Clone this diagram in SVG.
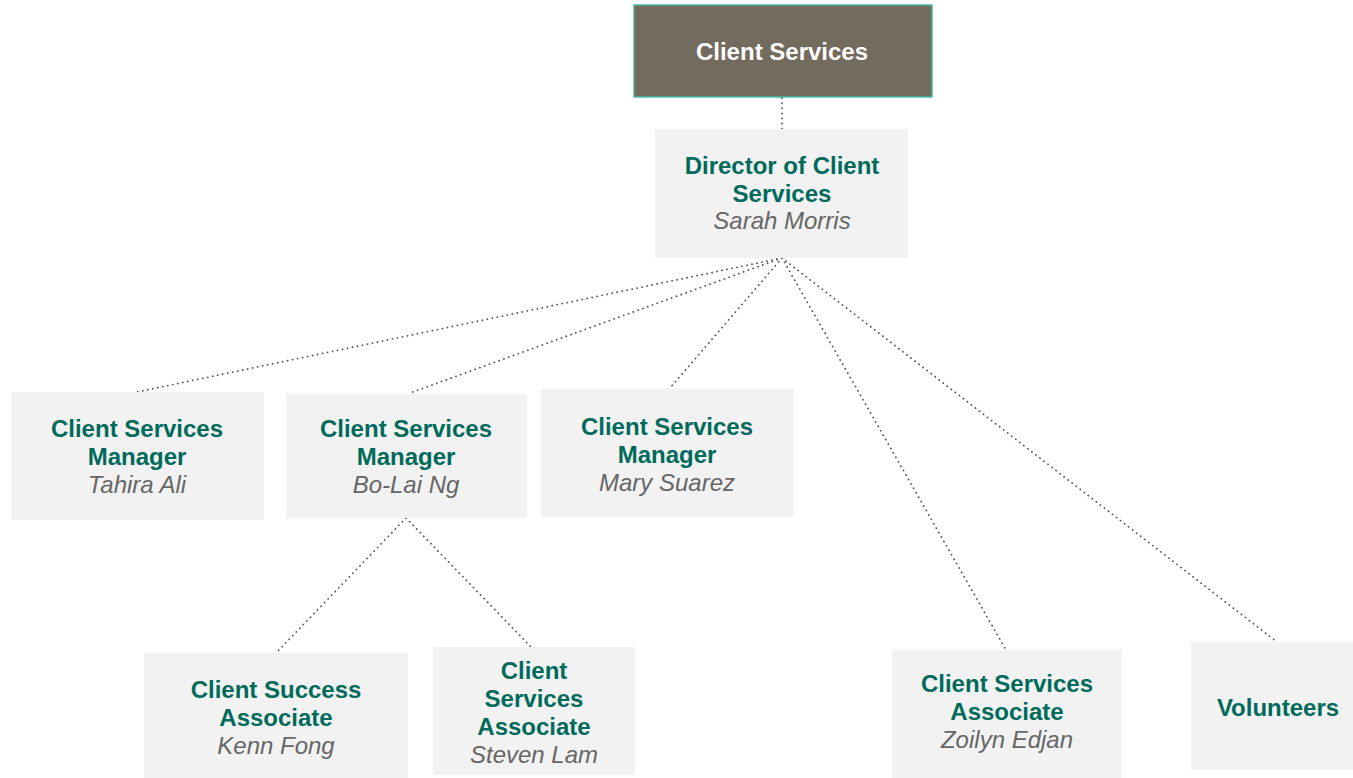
<svg xmlns="http://www.w3.org/2000/svg" width="1353" height="778" viewBox="0 0 1353 778">
<style>
.box{fill:#f2f2f2}
.t{font-family:"Liberation Sans",Arial,sans-serif;font-size:24px;font-weight:bold;fill:#006a5b;text-anchor:middle}
.n{font-family:"Liberation Sans",Arial,sans-serif;font-size:24px;font-style:italic;fill:#666666;text-anchor:middle}
.c{fill:none;stroke:#555;stroke-width:1.8;stroke-dasharray:0.1 5;stroke-linecap:round}
</style>
<rect width="1353" height="778" fill="#ffffff"/>
<g id="connectors">
<line class="c" x1="782" y1="98" x2="782" y2="129"/>
<line class="c" x1="782" y1="258" x2="137" y2="392"/>
<line class="c" x1="782" y1="258" x2="410" y2="393"/>
<line class="c" x1="782" y1="258" x2="670" y2="388"/>
<line class="c" x1="782" y1="258" x2="1006" y2="650"/>
<line class="c" x1="782" y1="258" x2="1277" y2="642"/>
<line class="c" x1="406" y1="518" x2="276" y2="653"/>
<line class="c" x1="406" y1="518" x2="531" y2="647"/>
</g>
<g id="client-services">
<rect x="634" y="5" width="298" height="92" fill="#736b5e" stroke="#4db6a4" stroke-width="1.5"/>
<text class="t" x="782" y="60" style="fill:#ffffff">Client Services</text>
</g>
<g id="director">
<rect class="box" x="655" y="129" width="253" height="129"/>
<text class="t" x="782" y="174">Director of Client</text>
<text class="t" x="782" y="202">Services</text>
<text class="n" x="782" y="229">Sarah Morris</text>
</g>
<g id="tahira">
<rect class="box" x="11" y="392" width="253" height="128"/>
<text class="t" x="137" y="437">Client Services</text>
<text class="t" x="137" y="465">Manager</text>
<text class="n" x="137" y="493">Tahira Ali</text>
</g>
<g id="bolai">
<rect class="box" x="286" y="394" width="241" height="124"/>
<text class="t" x="406" y="437">Client Services</text>
<text class="t" x="406" y="465">Manager</text>
<text class="n" x="406" y="493">Bo-Lai Ng</text>
</g>
<g id="mary">
<rect class="box" x="541" y="389" width="253" height="128"/>
<text class="t" x="667" y="435">Client Services</text>
<text class="t" x="667" y="463">Manager</text>
<text class="n" x="667" y="491">Mary Suarez</text>
</g>
<g id="kenn">
<rect class="box" x="144" y="653" width="264" height="125"/>
<text class="t" x="276" y="698">Client Success</text>
<text class="t" x="276" y="726">Associate</text>
<text class="n" x="276" y="754">Kenn Fong</text>
</g>
<g id="steven">
<rect class="box" x="433" y="647" width="202" height="128"/>
<text class="t" x="534" y="679">Client</text>
<text class="t" x="534" y="707">Services</text>
<text class="t" x="534" y="735">Associate</text>
<text class="n" x="534" y="763">Steven Lam</text>
</g>
<g id="zoilyn">
<rect class="box" x="892" y="650" width="230" height="128"/>
<text class="t" x="1007" y="692">Client Services</text>
<text class="t" x="1007" y="720">Associate</text>
<text class="n" x="1007" y="748">Zoilyn Edjan</text>
</g>
<g id="volunteers">
<rect class="box" x="1191" y="642" width="162" height="128"/>
<text class="t" x="1278" y="716">Volunteers</text>
</g>
</svg>
